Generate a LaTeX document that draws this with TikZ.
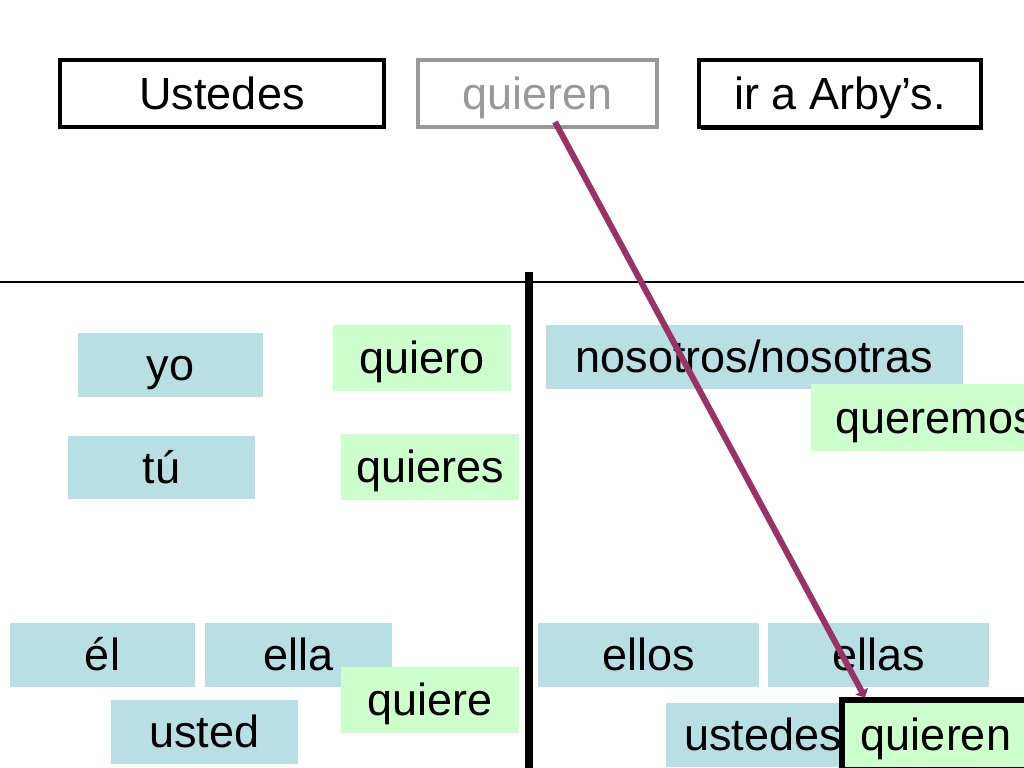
\documentclass[tikz,border=0pt]{standalone}
\usepackage{fontspec}
\setmainfont{Liberation Sans}
\usetikzlibrary{arrows.meta}
\definecolor{pronoun}{RGB}{184,223,227}
\definecolor{verbform}{RGB}{204,255,204}
\definecolor{linkcol}{RGB}{153,51,102}
\definecolor{faded}{RGB}{153,153,153}
\tikzset{
  dims/.style 2 args={minimum width=#1*0.025cm, minimum height=#2*0.025cm},
  word/.style={inner sep=0pt, font=\fontsize{32}{36}\selectfont, text height=24pt, text depth=1.3pt},
  pron/.style={word, fill=pronoun},
  vform/.style={word, fill=verbform},
  slot/.style={word, draw, line width=2.5pt},
}
\begin{document}
\begin{tikzpicture}[x=0.025cm, y=-0.025cm]
    % page frame
    \useasboundingbox (0,0) rectangle (1024,768);
    \clip (0,0) rectangle (1024,768);

    % sentence on top
    \fill (701,65) rectangle (983,130);
    \node[slot, fill=white, dims={324}{67}] (subj) at (222,93.5) {Ustedes};
    \node[slot, draw=faded, text=faded, dims={239}{67}] (verb) at (537.5,93.5) {quieren};
    \node[slot, fill=white, dims={282}{67}] (rest) at (840,93.5) {ir a Arby’s.};

    % chart lines
    \draw[line width=0.8pt] (0,282) -- (1024,282);
    \draw[line width=5pt] (529,272) -- (529,768);

    % singular side
    \node[pron, dims={185}{64}] (yo) at (170.5,365) {yo};
    \node[vform, dims={178}{66}] (quiero) at (422,358) {quiero};
    \node[pron, dims={187}{63}] (tu) at (161.5,467.5) {tú};
    \node[vform, dims={178}{66}] (quieres) at (430,467) {quieres};
    \node[pron, dims={185}{64}] (el) at (102.5,655) {él};
    \node[pron, dims={187}{64}] (ella) at (298.5,655) {ella};
    \node[vform, dims={178}{66}] (quiere) at (430,700) {quiere};
    \node[pron, dims={187}{64}] (usted) at (204.5,732) {usted};

    % plural side
    \node[pron, dims={417}{64}] (nosotros) at (754.5,357) {nosotros/nosotras};
    \node[vform, dims={249}{67}] (queremos) at (935.5,417.5) {queremos};
    \node[pron, dims={221}{64}] (ellos) at (648.5,655) {ellos};
    \node[pron, dims={221}{64}] (ellas) at (878.5,655) {ellas};
    \node[pron, dims={194}{64}] (ustedes) at (763,735) {ustedes};
    \node[vform, draw, line width=3.6pt, dims={188}{70}] (quieren) at (936,735) {quieren};

    % link from the sentence to the chart
    \coordinate (linkstart) at (555,122);
    \draw[linkcol, line width=4.3pt, -{Triangle[length=5pt, width=10pt]}] (linkstart) -- (quieren.north west -| 865,0);
\end{tikzpicture}
\end{document}
